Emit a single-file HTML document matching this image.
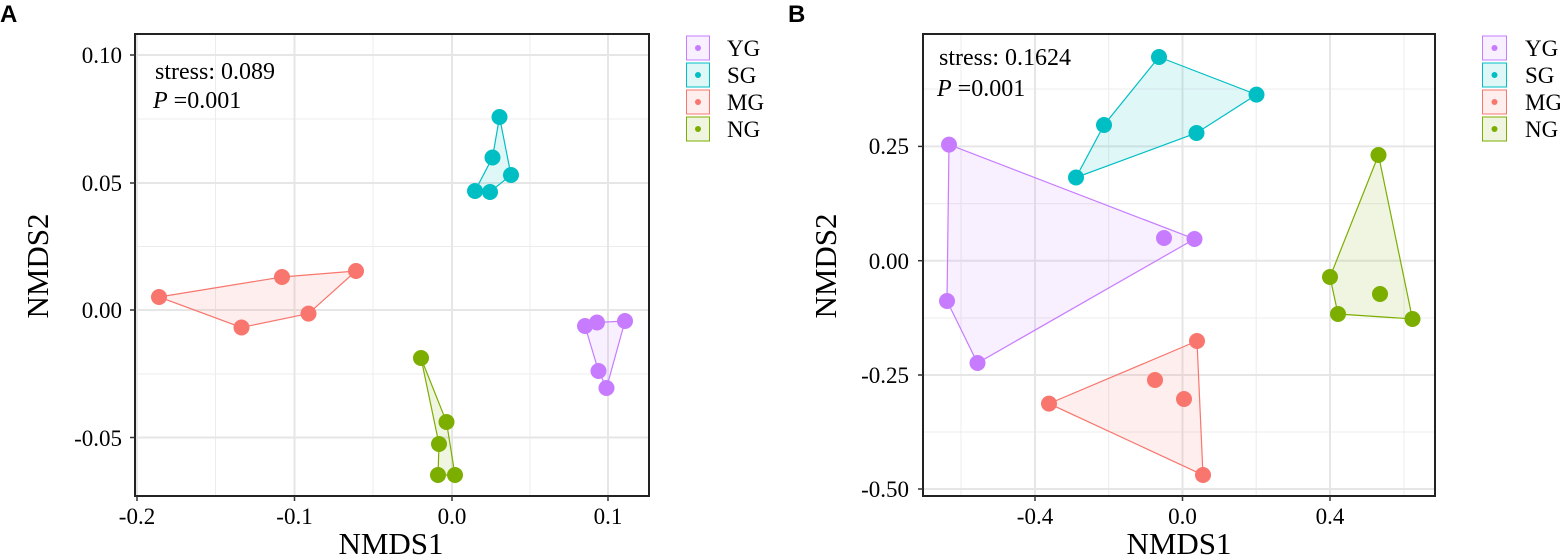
<!DOCTYPE html>
<html><head><style>body{margin:0;background:#fff}svg{display:block}text{font-family:"Liberation Serif",serif;fill:#000}</style></head><body>
<svg width="1560" height="556" viewBox="0 0 1560 556" xmlns="http://www.w3.org/2000/svg">
<text x="0" y="22" style="font-family:'Liberation Sans',sans-serif;font-weight:bold;font-size:24px">A</text>
<text x="788" y="22" style="font-family:'Liberation Sans',sans-serif;font-weight:bold;font-size:24px">B</text>
<!-- Panel A -->
<g stroke="#ececec" stroke-width="1">
<line x1="215.5" y1="34" x2="215.5" y2="496"/><line x1="373" y1="34" x2="373" y2="496"/><line x1="530" y1="34" x2="530" y2="496"/>
<line x1="135" y1="119" x2="649" y2="119"/><line x1="135" y1="246.5" x2="649" y2="246.5"/><line x1="135" y1="374" x2="649" y2="374"/>
</g>
<g stroke="#e6e6e6" stroke-width="2">
<line x1="137" y1="34" x2="137" y2="496"/><line x1="294.5" y1="34" x2="294.5" y2="496"/><line x1="452" y1="34" x2="452" y2="496"/><line x1="608" y1="34" x2="608" y2="496"/>
<line x1="135" y1="55" x2="649" y2="55"/><line x1="135" y1="183" x2="649" y2="183"/><line x1="135" y1="310" x2="649" y2="310"/><line x1="135" y1="437.5" x2="649" y2="437.5"/>
</g>
<polygon points="159,297 282,277 356,271 308.5,313.6 241.5,327.5" fill="#F8766D" fill-opacity="0.12" stroke="#F8766D" stroke-width="1.2"/>
<polygon points="499.5,117 511,175 490,192 475,191 492.5,157.5" fill="#00BFC4" fill-opacity="0.12" stroke="#00BFC4" stroke-width="1.2"/>
<polygon points="585,326 597,322.5 625,321 606.5,388 598.5,371" fill="#C77CFF" fill-opacity="0.12" stroke="#C77CFF" stroke-width="1.2"/>
<polygon points="421,358 446.5,422 455,475 438,475 439,444" fill="#7CAE00" fill-opacity="0.12" stroke="#7CAE00" stroke-width="1.2"/>
<g fill="#F8766D"><circle cx="159" cy="297" r="8"/><circle cx="282" cy="277" r="8"/><circle cx="356" cy="271" r="8"/><circle cx="308.5" cy="313.6" r="8"/><circle cx="241.5" cy="327.5" r="8"/></g>
<g fill="#00BFC4"><circle cx="499.5" cy="117" r="8"/><circle cx="492.5" cy="157.5" r="8"/><circle cx="511" cy="175" r="8"/><circle cx="490" cy="192" r="8"/><circle cx="475" cy="191" r="8"/></g>
<g fill="#C77CFF"><circle cx="585" cy="326" r="8"/><circle cx="597" cy="322.5" r="8"/><circle cx="625" cy="321" r="8"/><circle cx="598.5" cy="371" r="8"/><circle cx="606.5" cy="388" r="8"/></g>
<g fill="#7CAE00"><circle cx="421" cy="358" r="8"/><circle cx="446.5" cy="422" r="8"/><circle cx="439" cy="444" r="8"/><circle cx="438" cy="475" r="8"/><circle cx="455" cy="475" r="8"/></g>
<rect x="135" y="34" width="514" height="462" fill="none" stroke="#222" stroke-width="2"/>
<g stroke="#333" stroke-width="1.5"><line x1="130" y1="55" x2="135" y2="55"/><line x1="130" y1="183" x2="135" y2="183"/><line x1="130" y1="310" x2="135" y2="310"/><line x1="130" y1="437.5" x2="135" y2="437.5"/>
<line x1="137" y1="496" x2="137" y2="501"/><line x1="294.5" y1="496" x2="294.5" y2="501"/><line x1="452" y1="496" x2="452" y2="501"/><line x1="608" y1="496" x2="608" y2="501"/></g>
<g font-size="23" text-anchor="end"><text x="122" y="63">0.10</text><text x="122" y="191">0.05</text><text x="122" y="318">0.00</text><text x="122" y="446">-0.05</text></g>
<g font-size="23" text-anchor="middle"><text x="137" y="524">-0.2</text><text x="294.5" y="524">-0.1</text><text x="452" y="524">0.0</text><text x="608" y="524">0.1</text></g>
<text x="391" y="554" font-size="31" text-anchor="middle">NMDS1</text>
<text transform="translate(48,266) rotate(-90)" font-size="31" text-anchor="middle">NMDS2</text>
<text x="155" y="79" font-size="24">stress: 0.089</text>
<text x="153" y="108" font-size="24"><tspan font-style="italic">P</tspan> =0.001</text>
<!-- Panel B -->
<g stroke="#ececec" stroke-width="1">
<line x1="961" y1="34" x2="961" y2="496"/><line x1="1108.7" y1="34" x2="1108.7" y2="496"/><line x1="1256.2" y1="34" x2="1256.2" y2="496"/><line x1="1404" y1="34" x2="1404" y2="496"/>
<line x1="923" y1="89" x2="1435" y2="89"/><line x1="923" y1="203.6" x2="1435" y2="203.6"/><line x1="923" y1="318" x2="1435" y2="318"/><line x1="923" y1="432" x2="1435" y2="432"/>
</g>
<g stroke="#e6e6e6" stroke-width="2">
<line x1="1035" y1="34" x2="1035" y2="496"/><line x1="1182.5" y1="34" x2="1182.5" y2="496"/><line x1="1330" y1="34" x2="1330" y2="496"/>
<line x1="923" y1="146.4" x2="1435" y2="146.4"/><line x1="923" y1="260.7" x2="1435" y2="260.7"/><line x1="923" y1="375" x2="1435" y2="375"/><line x1="923" y1="489" x2="1435" y2="489"/>
</g>
<polygon points="1159,57 1256.5,94.6 1196.5,133 1076,177.5 1104,125" fill="#00BFC4" fill-opacity="0.12" stroke="#00BFC4" stroke-width="1.2"/>
<polygon points="949,144.6 1194.5,239 977.5,363 947,301" fill="#C77CFF" fill-opacity="0.12" stroke="#C77CFF" stroke-width="1.2"/>
<polygon points="1197,341 1203,475 1049,403.6" fill="#F8766D" fill-opacity="0.12" stroke="#F8766D" stroke-width="1.2"/>
<polygon points="1378.5,155 1412.5,319 1338,314 1330,277" fill="#7CAE00" fill-opacity="0.12" stroke="#7CAE00" stroke-width="1.2"/>
<g fill="#00BFC4"><circle cx="1159" cy="57" r="8"/><circle cx="1256.5" cy="94.6" r="8"/><circle cx="1196.5" cy="133" r="8"/><circle cx="1104" cy="125" r="8"/><circle cx="1076" cy="177.5" r="8"/></g>
<g fill="#C77CFF"><circle cx="949" cy="144.6" r="8"/><circle cx="1194.5" cy="239" r="8"/><circle cx="1164" cy="238" r="8"/><circle cx="947" cy="301" r="8"/><circle cx="977.5" cy="363" r="8"/></g>
<g fill="#F8766D"><circle cx="1197" cy="341" r="8"/><circle cx="1155" cy="380" r="8"/><circle cx="1184" cy="399" r="8"/><circle cx="1049" cy="403.6" r="8"/><circle cx="1203" cy="475" r="8"/></g>
<g fill="#7CAE00"><circle cx="1378.5" cy="155" r="8"/><circle cx="1330" cy="277" r="8"/><circle cx="1380" cy="294" r="8"/><circle cx="1338" cy="314" r="8"/><circle cx="1412.5" cy="319" r="8"/></g>
<rect x="923" y="34" width="512" height="462" fill="none" stroke="#222" stroke-width="2"/>
<g stroke="#333" stroke-width="1.5"><line x1="918" y1="146.4" x2="923" y2="146.4"/><line x1="918" y1="260.7" x2="923" y2="260.7"/><line x1="918" y1="375" x2="923" y2="375"/><line x1="918" y1="489" x2="923" y2="489"/>
<line x1="1035" y1="496" x2="1035" y2="501"/><line x1="1182.5" y1="496" x2="1182.5" y2="501"/><line x1="1330" y1="496" x2="1330" y2="501"/></g>
<g font-size="23" text-anchor="end"><text x="909" y="154">0.25</text><text x="909" y="269">0.00</text><text x="909" y="383">-0.25</text><text x="909" y="497">-0.50</text></g>
<g font-size="23" text-anchor="middle"><text x="1035" y="524">-0.4</text><text x="1182.5" y="524">0.0</text><text x="1330" y="524">0.4</text></g>
<text x="1179" y="554" font-size="31" text-anchor="middle">NMDS1</text>
<text transform="translate(836,266) rotate(-90)" font-size="31" text-anchor="middle">NMDS2</text>
<text x="939" y="65" font-size="24">stress: 0.1624</text>
<text x="937" y="96" font-size="24"><tspan font-style="italic">P</tspan> =0.001</text>
<!-- Legends -->
<g font-size="23">
<g transform="translate(686,0)">
<rect x="0.5" y="36" width="23" height="24" fill="#C77CFF" fill-opacity="0.12" stroke="#C77CFF"/><circle cx="12" cy="48" r="3" fill="#C77CFF"/>
<rect x="0.5" y="63" width="23" height="24" fill="#00BFC4" fill-opacity="0.12" stroke="#00BFC4"/><circle cx="12" cy="75" r="3" fill="#00BFC4"/>
<rect x="0.5" y="90" width="23" height="24" fill="#F8766D" fill-opacity="0.12" stroke="#F8766D"/><circle cx="12" cy="102" r="3" fill="#F8766D"/>
<rect x="0.5" y="117" width="23" height="24" fill="#7CAE00" fill-opacity="0.12" stroke="#7CAE00"/><circle cx="12" cy="129" r="3" fill="#7CAE00"/>
<text x="41" y="56">YG</text><text x="41" y="83">SG</text><text x="41" y="110">MG</text><text x="41" y="137">NG</text>
</g>
<g transform="translate(1482,0)">
<rect x="0.5" y="36" width="24" height="24" fill="#C77CFF" fill-opacity="0.12" stroke="#C77CFF"/><circle cx="12.5" cy="48" r="3" fill="#C77CFF"/>
<rect x="0.5" y="63" width="24" height="24" fill="#00BFC4" fill-opacity="0.12" stroke="#00BFC4"/><circle cx="12.5" cy="75" r="3" fill="#00BFC4"/>
<rect x="0.5" y="90" width="24" height="24" fill="#F8766D" fill-opacity="0.12" stroke="#F8766D"/><circle cx="12.5" cy="102" r="3" fill="#F8766D"/>
<rect x="0.5" y="117" width="24" height="24" fill="#7CAE00" fill-opacity="0.12" stroke="#7CAE00"/><circle cx="12.5" cy="129" r="3" fill="#7CAE00"/>
<text x="43" y="56">YG</text><text x="43" y="83">SG</text><text x="43" y="110">MG</text><text x="43" y="137">NG</text>
</g>
</g>
</svg>
</body></html>
